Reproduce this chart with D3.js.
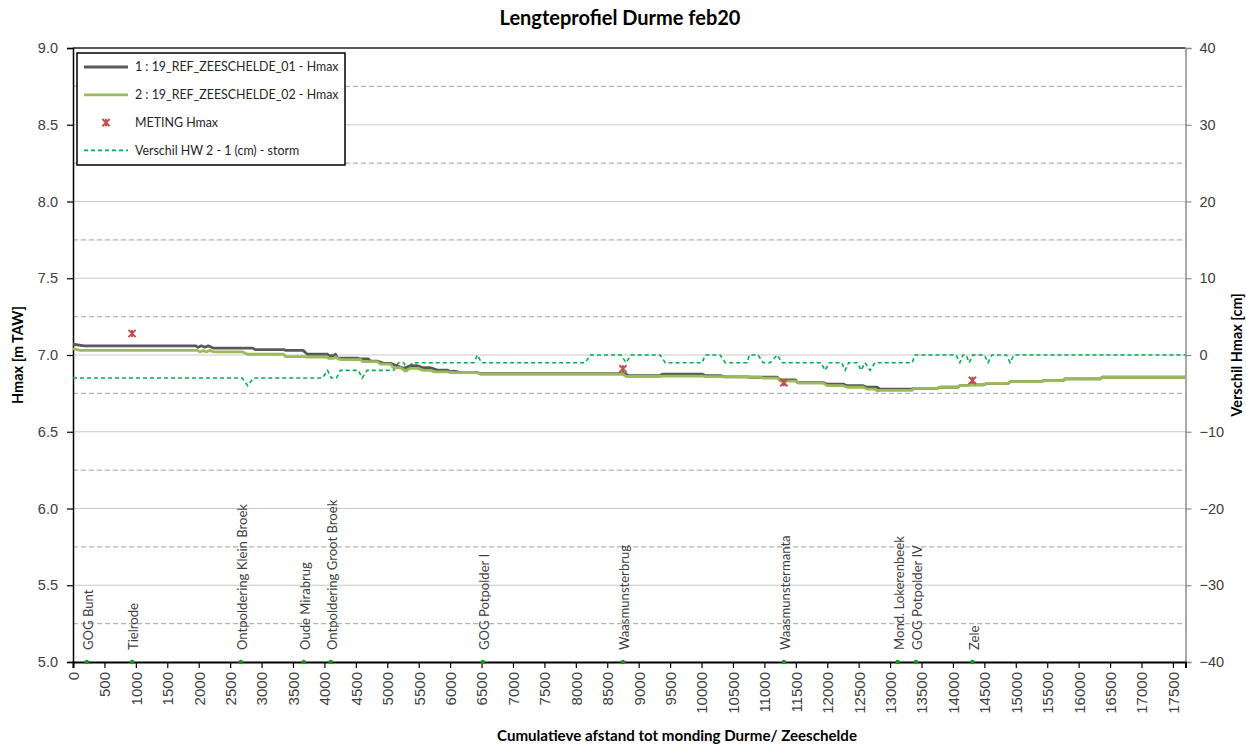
<!DOCTYPE html>
<html>
<head>
<meta charset="utf-8">
<script src="https://cdn.jsdelivr.net/npm/d3@7"></script>
<style>
  body { margin: 0; background: #ffffff; }
  svg { display: block; font-family: Lato, "Open Sans", "DejaVu Sans", sans-serif; }
</style>
</head>
<body>
<svg id="chart" width="1246" height="745"></svg>
<script>
// ---- Data -----------------------------------------------------------------
// Cumulative distance [m] vs. maximum water level [m TAW]
const ref01Profile = [
  [0,7.07],[180,7.06],[1950,7.06],[1990,7.05],[2040,7.06],[2100,7.05],[2150,7.06],[2230,7.045],
  [2860,7.045],[2900,7.035],[3350,7.035],[3390,7.03],[3660,7.03],[3730,7.005],[4050,7.005],
  [4070,6.995],[4145,6.995],[4177,7.005],[4210,6.98],[4526,6.98],[4574,6.974],[4700,6.974],
  [4733,6.96],[4844,6.96],[4940,6.946],[5051,6.946],[5258,6.913],[5369,6.93],[5480,6.93],
  [5575,6.917],[5687,6.917],[5798,6.902],[5957,6.902],[6005,6.89],[6060,6.895],[6116,6.89],
  [6163,6.885],[6434,6.885],[6482,6.878],[8787,6.878],[8835,6.865],[9343,6.865],[9375,6.876],
  [10011,6.876],[10059,6.865],[10297,6.865],[10377,6.858],[10726,6.858],[10774,6.855],
  [11204,6.855],[11252,6.837],[11500,6.837],[11530,6.82],[11935,6.82],[11999,6.81],[12253,6.81],
  [12317,6.80],[12571,6.80],[12635,6.79],[12794,6.79],[12842,6.778],[13351,6.778],[13366,6.783],
  [13748,6.783],[13796,6.79],[14082,6.79],[14114,6.80],[14225,6.80],[14257,6.805],[14480,6.805],
  [14543,6.815],[14877,6.815],[14909,6.826],[15418,6.826],[15434,6.833],[15752,6.833],
  [15784,6.844],[16340,6.844],[16372,6.855],[17692,6.855]
];
const ref02Profile = [
  [0,7.04],[120,7.03],[1980,7.03],[2020,7.02],[2070,7.03],[2120,7.02],[2170,7.03],[2240,7.02],
  [2700,7.02],[2780,7.005],[3350,7.005],[3382,6.99],[3668,6.99],[3731,6.987],[4050,6.987],
  [4066,6.978],[4145,6.978],[4177,6.987],[4208,6.978],[4256,6.97],[4574,6.97],[4606,6.957],
  [4844,6.957],[4892,6.94],[5051,6.94],[5099,6.917],[5210,6.917],[5289,6.896],[5369,6.913],
  [5480,6.913],[5575,6.9],[5687,6.9],[5750,6.89],[5957,6.89],[6005,6.885],[6434,6.885],
  [6482,6.876],[8740,6.876],[8803,6.86],[9343,6.86],[9375,6.862],[10011,6.862],[10059,6.86],
  [10726,6.858],[10774,6.856],[10933,6.856],[10981,6.85],[11204,6.85],[11252,6.83],[11522,6.83],
  [11540,6.817],[11935,6.817],[11999,6.80],[12253,6.80],[12317,6.79],[12571,6.79],[12635,6.778],
  [12760,6.778],[12794,6.765],[12842,6.77],[13351,6.77],[13366,6.783],[13748,6.783],[13796,6.79],
  [14082,6.79],[14114,6.80],[14225,6.80],[14257,6.805],[14480,6.805],[14543,6.815],[14877,6.815],
  [14909,6.826],[15418,6.826],[15434,6.833],[15752,6.833],[15784,6.844],[16340,6.844],
  [16372,6.855],[17692,6.855]
];
// Difference HW run 2 - run 1 [cm], storm (right axis)
const verschilProfile = [
  [0,-3],[2690,-3],[2780,-4],[2870,-3],[3970,-3],[4050,-2],[4110,-3],[4190,-3],[4256,-2],
  [4540,-2],[4600,-3],[4680,-2],[5100,-2],[5180,-1],[5260,-1],[5320,-2],[5400,-1],[6380,-1],
  [6434,0],[6500,-1],[8150,-1],[8231,0],[8720,0],[8800,-1],[8880,0],[9343,0],[9423,-1],
  [10011,-1],[10059,0],[10297,0],[10377,-1],[10726,-1],[10760,0],[10900,0],[10981,-1],
  [11093,-1],[11204,0],[11284,-1],[11900,-1],[11967,-2],[12030,-1],[12230,-1],[12285,-2],
  [12340,-1],[12480,-1],[12540,-2],[12600,-1],[12683,-2],[12760,-1],[13351,-1],[13398,0],
  [14050,0],[14110,-1],[14160,0],[14210,0],[14257,-1],[14320,0],[14500,0],[14559,-1],[14620,0],
  [14850,0],[14909,-1],[14970,0],[17692,0]
];
// Measured maximum water levels
const metingPoints = [[940,7.14],[8750,6.91],[11310,6.82],[14310,6.835]];
// Named locations along the Durme
const locationNames = ["GOG Bunt","Tielrode","Ontpoldering Klein Broek","Oude Mirabrug",
  "Ontpoldering Groot Broek","GOG Potpolder I","Waasmunsterbrug","Waasmunstermanta",
  "Mond. Lokerenbeek","GOG Potpolder IV","Zele"];
const locationDist = [220,940,2670,3670,4100,6520,8750,11310,13120,13410,14310];

// Axis ticks
const xTicks = [0,500,1000,1500,2000,2500,3000,3500,4000,4500,5000,5500,6000,6500,7000,7500,8000,
  8500,9000,9500,10000,10500,11000,11500,12000,12500,13000,13500,14000,14500,15000,15500,16000,
  16500,17000,17500];
const leftTicks = [5.0,5.5,6.0,6.5,7.0,7.5,8.0,8.5,9.0];
const rightTicks = [-40,-30,-20,-10,0,10,20,30,40];
const rightMinor = [-35,-25,-15,-5,5,15,25,35];

const legendItems = [
  {label: "1 : 19_REF_ZEESCHELDE_01 - Hmax", type: "line", color: "#595959"},
  {label: "2 : 19_REF_ZEESCHELDE_02 - Hmax", type: "line", color: "#9BBB59"},
  {label: "METING Hmax", type: "marker", color: "#C0504D"},
  {label: "Verschil HW 2 - 1 (cm) - storm", type: "dash", color: "#00B050"}
];

// ---- Layout ---------------------------------------------------------------
const svg = d3.select("#chart");
const L = 73, R = 1185.5, T = 48, B = 662;

const x = d3.scaleLinear().domain([0, 17700]).range([L, R]);
const yL = d3.scaleLinear().domain([5, 9]).range([B, T]);
const yR = d3.scaleLinear().domain([-40, 40]).range([B, T]);

// Gridlines
svg.append("g").selectAll("line").data(leftTicks.filter(d => d > 5 && d < 9)).join("line")
  .attr("x1", L).attr("x2", R).attr("y1", d => yL(d)).attr("y2", d => yL(d))
  .attr("stroke", "#c9c9c9").attr("stroke-width", 1);
svg.append("g").selectAll("line").data(rightMinor).join("line")
  .attr("x1", L).attr("x2", R).attr("y1", d => yR(d)).attr("y2", d => yR(d))
  .attr("stroke", "#b4b4b4").attr("stroke-width", 1.2).attr("stroke-dasharray", "5,3");
svg.append("line").attr("x1", L).attr("x2", R).attr("y1", T).attr("y2", T)
  .attr("stroke", "#222").attr("stroke-width", 1.5);

// Axes
const axL = svg.append("g").attr("transform", `translate(${L},0)`)
  .call(d3.axisLeft(yL).tickValues(leftTicks).tickFormat(d3.format(".1f")).tickSize(6).tickPadding(9));
axL.select(".domain").attr("stroke", "#000").attr("stroke-width", 1.5);
axL.selectAll(".tick line").attr("stroke", "#000").attr("stroke-width", 1.2);
axL.selectAll("text").attr("font-size", 14.5).attr("fill", "#404040");

const axR = svg.append("g").attr("transform", `translate(${R},0)`)
  .call(d3.axisRight(yR).tickValues(rightTicks).tickSize(6).tickPadding(8));
axR.select(".domain").attr("stroke", "#8c8c8c").attr("stroke-width", 1.5);
axR.selectAll(".tick line").attr("stroke", "#8c8c8c").attr("stroke-width", 1.2);
axR.selectAll("text").attr("font-size", 14.5).attr("fill", "#404040");

const axB = svg.append("g").attr("transform", `translate(0,${B})`)
  .call(d3.axisBottom(x).tickValues(xTicks).tickFormat(d3.format("d")).tickSize(6));
axB.select(".domain").attr("stroke", "#000").attr("stroke-width", 2);
axB.selectAll(".tick line").attr("stroke", "#000").attr("stroke-width", 1.2);
axB.selectAll("text")
  .attr("transform", "rotate(-90)").attr("x", -10).attr("y", 0).attr("dy", "0.36em")
  .style("text-anchor", "end").attr("font-size", 15).attr("fill", "#404040");

// Location labels and markers on the axis
svg.append("g").selectAll("text").data(locationNames).join("text")
  .attr("transform", (d, i) => `translate(${x(locationDist[i]) + 1.5},650) rotate(-90)`)
  .attr("dy", "0.36em").attr("font-size", 13.1).attr("fill", "#404040").text(d => d);
svg.append("g").selectAll("circle").data(locationDist).join("circle")
  .attr("cx", d => x(d)).attr("cy", B).attr("r", 2.2).attr("fill", "#109a10");

// Series
const lineL = d3.line().x(d => x(d[0])).y(d => yL(d[1]));
const lineR = d3.line().x(d => x(d[0])).y(d => yR(d[1]));

svg.append("path").datum(verschilProfile).attr("d", lineR).attr("fill", "none")
  .attr("stroke", "#00B050").attr("stroke-width", 1.6).attr("stroke-dasharray", "4,3");
svg.append("path").datum(ref01Profile).attr("d", lineL).attr("fill", "none")
  .attr("stroke", "#595959").attr("stroke-width", 2.8).attr("stroke-linejoin", "round");
svg.append("path").datum(ref02Profile).attr("d", lineL).attr("fill", "none")
  .attr("stroke", "#9BBB59").attr("stroke-width", 2.8).attr("stroke-linejoin", "round");

// Star marker: a cross with a vertical bar
function starPath(cx, cy, s) {
  return `M${cx - s},${cy - s}L${cx + s},${cy + s}M${cx - s},${cy + s}L${cx + s},${cy - s}` +
         `M${cx},${cy - s}L${cx},${cy + s}`;
}
svg.append("g").selectAll("path").data(metingPoints).join("path")
  .attr("d", d => starPath(x(d[0]), yL(d[1]), 3.6))
  .attr("stroke", "#C0504D").attr("stroke-width", 2).attr("fill", "none");

// Legend
const lg = svg.append("g");
lg.append("rect").attr("x", 77).attr("y", 53).attr("width", 268).attr("height", 112)
  .attr("fill", "#fff").attr("stroke", "#000").attr("stroke-width", 1.5);
legendItems.forEach((it, i) => {
  const yy = 67 + i * 27.8;
  if (it.type === "line") {
    lg.append("line").attr("x1", 84).attr("x2", 128).attr("y1", yy).attr("y2", yy)
      .attr("stroke", it.color).attr("stroke-width", 2.8);
  } else if (it.type === "dash") {
    lg.append("line").attr("x1", 84).attr("x2", 128).attr("y1", yy).attr("y2", yy)
      .attr("stroke", it.color).attr("stroke-width", 1.6).attr("stroke-dasharray", "4,3");
  } else {
    lg.append("path").attr("d", starPath(106, yy, 3.6)).attr("stroke", it.color)
      .attr("stroke-width", 2).attr("fill", "none");
  }
  lg.append("text").attr("x", 135).attr("y", yy).attr("dy", "0.35em")
    .attr("font-size", 12.4).attr("fill", "#262626").text(it.label);
});

// Titles
svg.append("text").attr("x", 620).attr("y", 25).attr("text-anchor", "middle")
  .attr("font-size", 20).attr("font-weight", "bold").attr("fill", "#000")
  .text("Lengteprofiel Durme feb20");
svg.append("text").attr("x", 677).attr("y", 741).attr("text-anchor", "middle")
  .attr("font-size", 15.1).attr("font-weight", "bold").attr("fill", "#000")
  .text("Cumulatieve afstand tot monding Durme/ Zeeschelde");
svg.append("text").attr("transform", "translate(18,355) rotate(-90)").attr("dy", "0.35em")
  .attr("text-anchor", "middle").attr("font-size", 14.5).attr("font-weight", "bold")
  .text("Hmax [m TAW]");
svg.append("text").attr("transform", "translate(1237,355) rotate(-90)").attr("dy", "0.35em")
  .attr("text-anchor", "middle").attr("font-size", 14.5).attr("font-weight", "bold")
  .text("Verschil Hmax [cm]");
</script>
</body>
</html>
